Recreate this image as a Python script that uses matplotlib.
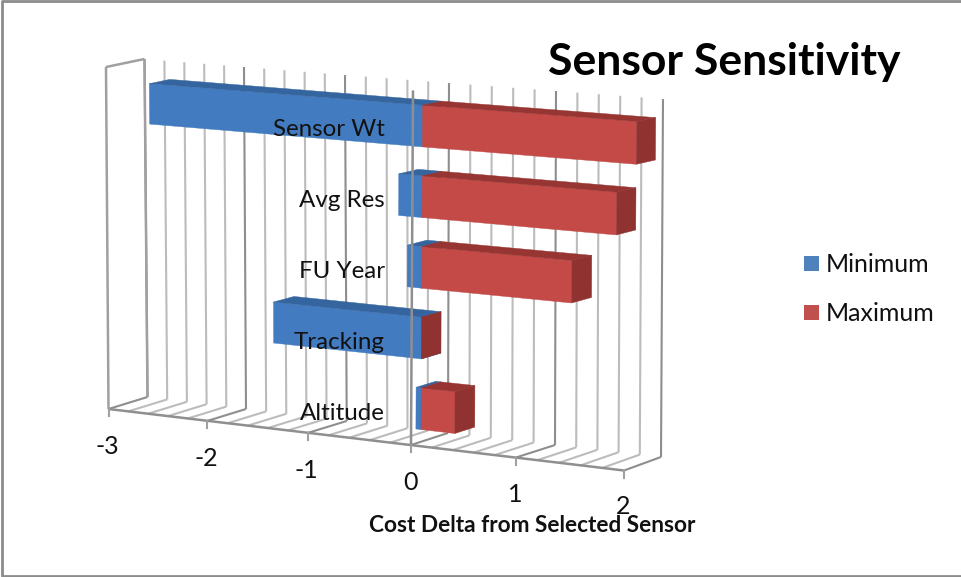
import numpy as np
import matplotlib
matplotlib.use('Agg')
import matplotlib.pyplot as plt
from matplotlib.patches import Polygon, Rectangle

categories = ['Altitude', 'Tracking', 'FU Year', 'Avg Res', 'Sensor Wt']
minimum = [-0.05, -1.44, -0.14, -0.225, -2.67]
maximum = [0.32, 0.0, 1.41, 1.82, 2.02]
ticks = [-3, -2, -1, 0, 1, 2]
tick_labels = ['-3', '-2', '-1', '0', '1', '2']

plt.rcParams['font.family'] = ['Lato', 'DejaVu Sans']

# pixel positions of the box corners
front_x = [108.5, 207, 307.5, 411, 516, 624]
front_y = [409, 421, 433, 445, 457.5, 470.5]
back_x = [147.5, 246, 346.7, 448, 555, 661]
back_y = [397, 409, 421, 433, 445, 457]
top_front_x = [106, 205.5, 307.5, 413, 518.5, 627]
top_back_x = [144.5, 244, 345, 449, 556, 663]
top_front_y = (67, 106)
top_back_y = (59, 99)

bar_d0, bar_d1 = 0.27, 0.80
bar_h = 0.118


def proj(v, d, z):
    # value on the x axis, depth 0..1, height 0..1 -> pixel position
    u = (v + 3) / 5
    fx = np.interp(v, ticks, front_x)
    fy = np.interp(v, ticks, front_y)
    bx = np.interp(v, ticks, back_x)
    by = np.interp(v, ticks, back_y)
    x0 = fx + d * (bx - fx)
    y0 = fy + d * (by - fy)
    tfx = np.interp(v, ticks, top_front_x)
    tbx = np.interp(v, ticks, top_back_x)
    tfy = top_front_y[0] + u * (top_front_y[1] - top_front_y[0])
    tby = top_back_y[0] + u * (top_back_y[1] - top_back_y[0])
    x1 = tfx + d * (tbx - tfx)
    y1 = tfy + d * (tby - tfy)
    return x0 + z * (x1 - x0), y0 + z * (y1 - y0)


def line3(ax, a, b, color='#b4b4b4', lw=1.5, zorder=2):
    p, q = proj(*a), proj(*b)
    ax.plot([p[0], q[0]], [p[1], q[1]], color=color, lw=lw, zorder=zorder,
            solid_capstyle='butt')


def box(ax, v0, v1, z0, colors, zorder):
    front, top, side = colors
    z1 = z0 + bar_h
    faces = [
        ([(v0, bar_d0, z0), (v1, bar_d0, z0), (v1, bar_d0, z1), (v0, bar_d0, z1)], front),
        ([(v0, bar_d0, z1), (v1, bar_d0, z1), (v1, bar_d1, z1), (v0, bar_d1, z1)], top),
        ([(v1, bar_d0, z0), (v1, bar_d1, z0), (v1, bar_d1, z1), (v1, bar_d0, z1)], side),
    ]
    for pts, c in faces:
        ax.add_patch(Polygon([proj(*p) for p in pts], closed=True, fc=c, ec=c,
                             lw=0.3, zorder=zorder))


fig = plt.figure(figsize=(9.61, 5.77), dpi=100)
ax = fig.add_axes([0, 0, 1, 1])
ax.set_xlim(0, 961)
ax.set_ylim(577, 0)
ax.axis('off')

# chart border, the right edge is cut off in the screenshot
ax.plot([970, 2, 2, 970], [0.5, 0.5, 576, 576], color='#8c8c8c', lw=2, zorder=1)

# back wall and floor gridlines every 0.2
for v in np.arange(-3, 2.01, 0.2):
    v = round(float(v), 1)
    major = abs(v - round(v)) < 1e-6
    col = '#8e8e8e' if major else '#bcbcbc'
    line3(ax, (v, 1, 0), (v, 1, 1), color=col)
    line3(ax, (v, 0, 0), (v, 1, 0), color=col)

# side wall
line3(ax, (-3, 0, 0), (-3, 0, 1), color='#a0a0a0', lw=1.8)
line3(ax, (-3, 0, 1), (-3, 1, 1), color='#a0a0a0', lw=1.8)
line3(ax, (-3, 1, 0), (-3, 1, 1), color='#a0a0a0', lw=1.8)

# front axis line and its ticks
line3(ax, (-3, 0, 0), (2, 0, 0), color='#8f8f8f', lw=1.8)
for v in ticks:
    px, py = proj(v, 0, 0)
    ax.plot([px, px], [py, py + 7], color='#a0a0a0', lw=1.5, zorder=2)

blue = ('#437bc0', '#35659f', '#35659f')
red = ('#c44a47', '#973533', '#8f3230')
for i, cat in enumerate(categories):
    z0 = (i + 0.5) / 5 - 0.0065 - bar_h / 2
    box(ax, minimum[i], 0, z0, blue, 3 + i * 0.01)
    box(ax, 0, maximum[i], z0, red, 3.5 + i * 0.01)

# category axis, drawn over the bars
line3(ax, (0, 0, 0), (0, 0, 1), color='#8f8f8f', lw=1.8, zorder=4)

for i, cat in enumerate(categories):
    ax.text(385, 413.5 - i * 71, cat, ha='right', va='center', fontsize=17.4, color='#111111', zorder=6)

label_y = [446, 458, 471, 482, 494, 506]
for v, lab, y in zip(ticks, tick_labels, label_y):
    ax.text(proj(v, 0, 0)[0] - 1, y, lab, ha='center', va='center', fontsize=18, color='#111111', zorder=6)

ax.text(532, 525, 'Cost Delta from Selected Sensor', ha='center', va='center',
        fontsize=16.3, fontweight='bold', color='#111111', zorder=6)
ax.text(724.5, 62, 'Sensor Sensitivity', ha='center', va='center',
        fontsize=32, fontweight='bold', color='black', zorder=6)

# legend
for y, c, name in [(263.5, '#4f81bd', 'Minimum'), (312.5, '#c0504d', 'Maximum')]:
    ax.add_patch(Rectangle((804, y - 7.5), 15, 15, fc=c, ec='none', zorder=6))
    ax.text(826, y + 1, name, ha='left', va='center', fontsize=18, color='#111111', zorder=6)

fig.savefig('out.png', dpi=100)
